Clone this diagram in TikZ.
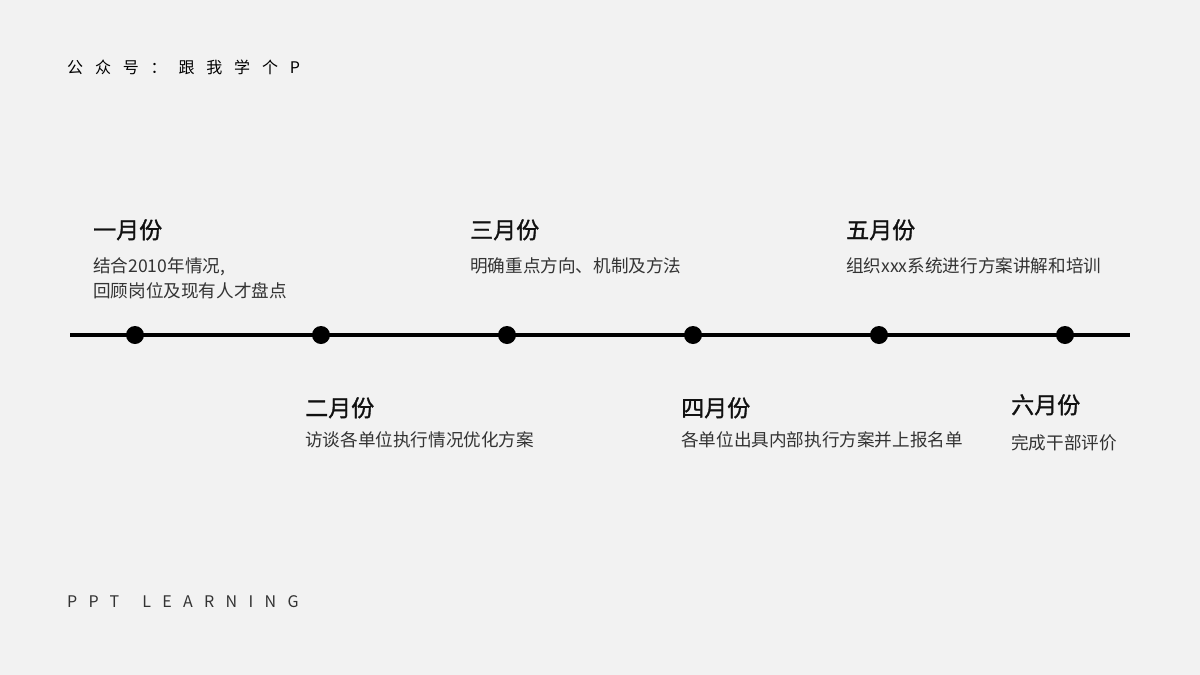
\documentclass[tikz,border=0pt]{standalone}
\usepackage{fontspec}
\setmainfont{Noto Sans CJK SC}
\newfontfamily\cjk{Noto Sans CJK SC}
\definecolor{bgc}{HTML}{F2F2F2}
\definecolor{titlec}{HTML}{111111}
\definecolor{descc}{HTML}{333333}
\begin{document}
\begin{tikzpicture}[x=1pt,y=-1pt,
  month/.style={anchor=base west,inner sep=0pt,text=titlec,font=\cjk\fontsize{23}{27}\selectfont\addfontfeature{FakeBold=1.3}},
  desc/.style={anchor=base west,inner sep=0pt,text=descc,font=\cjk\fontsize{17.6}{25}\selectfont,align=left},
  dot/.style={circle,fill=black,inner sep=0pt,minimum size=18pt},
  axis/.style={line width=4pt,black},
  corner/.style={anchor=base west,inner sep=0pt,text=black}]
\fill[bgc] (0,0) rectangle (1200,675);
\useasboundingbox (0,0) rectangle (1200,675);
% header and footer
\node[corner,font=\cjk\fontsize{16}{18}\selectfont\addfontfeature{LetterSpace=74}] (hdr) at (67,73) {公众号：跟我学个P};
\node[corner,font=\cjk\fontsize{16}{18}\selectfont\addfontfeature{LetterSpace=71},text=descc] (ftr) at (67,607) {PPT\hspace{8pt} LEARNING};
% axis
\coordinate (ax0) at (70,335);
\coordinate (ax1) at (1130,335);
\draw[axis] (ax0) -- (ax1);
\node[dot] (d1) at (135,335) {};
\node[dot] (d2) at (321,335) {};
\node[dot] (d3) at (507,335) {};
\node[dot] (d4) at (693,335) {};
\node[dot] (d5) at (879,335) {};
\node[dot] (d6) at (1065,335) {};
% upper labels
\node[month] (m1) at (93,238.5) {一月份};
\node[desc] (t1a) at (93,272.7) {结合2010年情况,};
\node[desc] (t1b) at (93,297.7) {回顾岗位及现有人才盘点};
\node[month] (m3) at (470,238.5) {三月份};
\node[desc] (t3) at (470,272.7) {明确重点方向、机制及方法};
\node[month] (m5) at (846,238.5) {五月份};
\node[desc] (t5) at (846,272.7) {组织xxx系统进行方案讲解和培训};
% lower labels
\node[month] (m2) at (305,416.5) {二月份};
\node[desc] (t2) at (305,446.7) {访谈各单位执行情况优化方案};
\node[month] (m4) at (681,416.5) {四月份};
\node[desc] (t4) at (681,446.7) {各单位出具内部执行方案并上报名单};
\node[month] (m6) at (1011,413.5) {六月份};
\node[desc] (t6) at (1011,449.7) {完成干部评价};
\end{tikzpicture}
\end{document}
